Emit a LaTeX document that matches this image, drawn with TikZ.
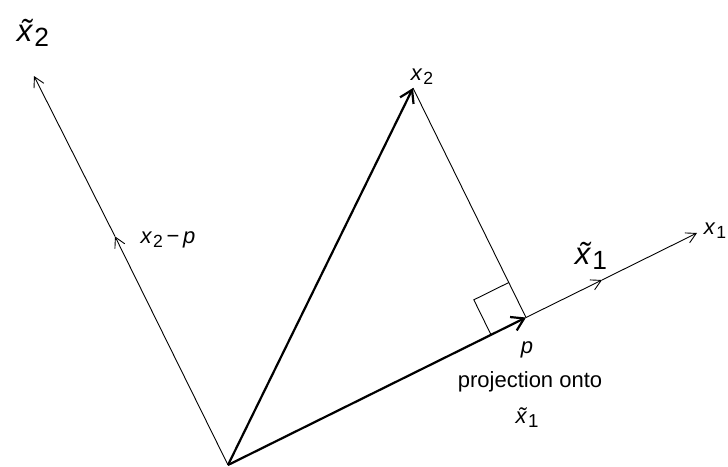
\documentclass[tikz,border=0pt]{standalone}
\usepackage{fontspec}
\setmainfont{Liberation Sans}
\usetikzlibrary{arrows.meta,calc}
\tikzset{
  vec/.style={-{Straight Barb[length=12pt,width=15pt]},line width=2.2pt},
  ax/.style ={-{Straight Barb[length=10pt,width=11pt]},line width=.9pt},
  thn/.style={line width=.9pt},
  lbl/.style={font=\fontsize{22}{26}\selectfont,inner sep=0pt},
  big/.style={font=\fontsize{31}{35}\selectfont,inner sep=0pt},
}
\newcommand{\vx}[1]{\textit{x}\kern1pt\raisebox{-.35ex}{\scalebox{.8}{#1}}}
\newcommand{\tx}[1]{\textit{\makebox[0pt][l]{\kern.13em\char"02DC}x}\kern1pt\raisebox{-.35ex}{\scalebox{.85}{#1}}}

\begin{document}
\begin{tikzpicture}[x=1pt,y=-1pt]
  \useasboundingbox (0,0) rectangle (728,466);
  \coordinate (O)  at (228,465);
  \coordinate (p)  at (526,317.5);
  \coordinate (x2) at (413,88);
  \coordinate (m1) at (602,280);
  \coordinate (e1) at (697,233);
  \coordinate (m2) at (115,236.4);
  \coordinate (e2) at (34,76);
  % axes with mid arrows
  \draw[ax] (p) -- (m1);
  \draw[ax] (m1) -- (e1);
  \draw[ax] (O) -- (m2);
  \draw[ax] (m2) -- (e2);
  % drop from x2 onto x1, right angle mark
  \draw[thn] (x2) -- (p);
  \coordinate (ra) at ($(p)!39pt!(O)$);
  \coordinate (rc) at ($(p)!39pt!(x2)$);
  \draw[thn] (ra) -- ($(ra)+(rc)-(p)$) -- (rc);
  % the two vectors
  \draw[vec] (O) -- (x2);
  \draw[vec] (O) -- (p);
  % labels
  \node[big] (lt2) at (33,33) {\tx{2}};
  \node[big] (lt1) at (591,256) {\tx{1}};
  \node[lbl] (lx2) at (422,77) {\vx{2}};
  \node[lbl] (lx1) at (715,231) {\vx{1}};
  \node[lbl] (lxp) at (168,240) {\vx{2}\,\textminus\,\textit{p}};
  \node[lbl] (lp)  at (527,350) {\textit{p}};
  \node[lbl] (lpr) at (530,382) {projection onto};
  \node[lbl] (lt1b) at (527,418) {\tx{1}};
\end{tikzpicture}
\end{document}
